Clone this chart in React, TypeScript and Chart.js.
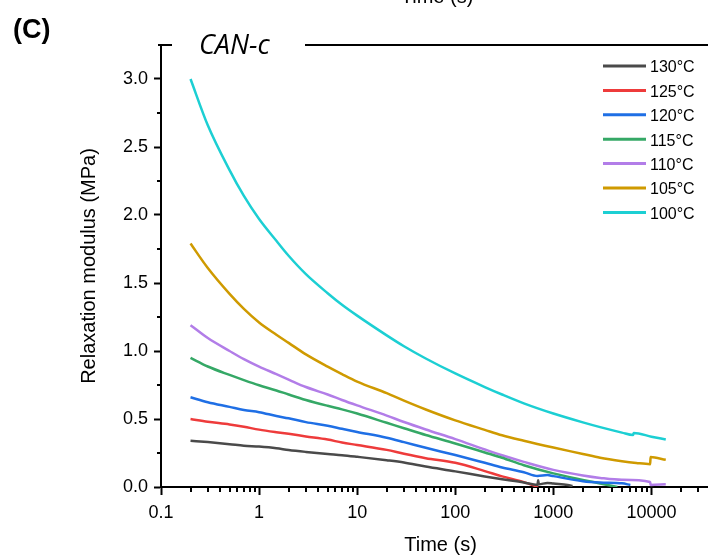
import React, { useEffect, useRef } from "react";
import { Chart, registerables } from "chart.js";

Chart.register(...registerables);

const FONT = "'Liberation Sans', Arial, sans-serif";

// ---- data ----
const LABELS = ["130°C", "125°C", "120°C", "115°C", "110°C", "105°C", "100°C"];
const COLORS = ["#4a4a4a", "#ee3b3b", "#1f6fe5", "#35a866", "#b27de8", "#cf9a00", "#1ccfd3"];

const T130 = [0.2, 0.3, 0.5, 0.7, 1, 1.5, 2, 3, 5, 7, 10, 20, 30, 50, 100, 200, 300, 500, 690, 700, 710, 870, 1000, 1400, 1570];
const G130 = [0.34, 0.33, 0.315, 0.304, 0.297, 0.285, 0.272, 0.258, 0.243, 0.234, 0.222, 0.197, 0.18, 0.15, 0.115, 0.077, 0.057, 0.033, 0.015, 0.05, 0.02, 0.03, 0.025, 0.015, 0.007];

const T125 = [0.2, 0.3, 0.5, 0.7, 1, 1.5, 2, 3, 5, 7, 10, 20, 30, 50, 100, 200, 300, 500, 700];
const G125 = [0.5, 0.48, 0.46, 0.443, 0.422, 0.403, 0.391, 0.372, 0.349, 0.327, 0.309, 0.273, 0.244, 0.212, 0.178, 0.117, 0.078, 0.036, 0.0];

const T120 = [0.2, 0.3, 0.5, 0.7, 1, 1.5, 2, 3, 5, 7, 10, 20, 30, 50, 100, 200, 300, 500, 690, 870, 1000, 2000, 3000, 5000, 6100];
const G120 = [0.66, 0.623, 0.589, 0.566, 0.55, 0.522, 0.505, 0.477, 0.45, 0.428, 0.405, 0.362, 0.33, 0.288, 0.235, 0.178, 0.144, 0.109, 0.081, 0.088, 0.08, 0.043, 0.033, 0.027, 0.015];

const T115 = [0.2, 0.3, 0.5, 0.7, 1, 1.5, 2, 3, 5, 7, 10, 20, 30, 50, 100, 200, 300, 500, 1000, 2000, 3000, 4500];
const G115 = [0.95, 0.886, 0.824, 0.786, 0.748, 0.71, 0.68, 0.64, 0.597, 0.571, 0.54, 0.472, 0.432, 0.382, 0.32, 0.254, 0.215, 0.16, 0.1, 0.052, 0.026, 0.0];

const T110 = [0.2, 0.3, 0.5, 0.7, 1, 1.5, 2, 3, 5, 7, 10, 20, 30, 50, 100, 200, 300, 500, 1000, 2000, 3000, 5000, 9700, 9800, 14000];
const G110 = [1.19, 1.095, 1.0, 0.94, 0.885, 0.83, 0.79, 0.735, 0.68, 0.64, 0.6, 0.525, 0.478, 0.423, 0.352, 0.276, 0.233, 0.185, 0.126, 0.085, 0.067, 0.053, 0.037, 0.015, 0.02];

const T105 = [0.2, 0.3, 0.5, 0.7, 1, 1.5, 2, 3, 5, 7, 10, 20, 30, 50, 100, 200, 300, 500, 1000, 2000, 3000, 5000, 7000, 9700, 9800, 14000];
const G105 = [1.79, 1.61, 1.42, 1.31, 1.21, 1.12, 1.06, 0.975, 0.885, 0.83, 0.775, 0.69, 0.635, 0.57, 0.49, 0.42, 0.38, 0.34, 0.29, 0.243, 0.215, 0.19, 0.177, 0.168, 0.22, 0.2];

const T100 = [0.2, 0.3, 0.5, 0.7, 1, 1.5, 2, 3, 5, 7, 10, 20, 30, 50, 100, 200, 300, 500, 1000, 2000, 3000, 5000, 6500, 6600, 10000, 14000];
const G100 = [3.0, 2.66, 2.33, 2.14, 1.97, 1.81, 1.7, 1.565, 1.425, 1.34, 1.26, 1.115, 1.035, 0.945, 0.835, 0.735, 0.68, 0.615, 0.54, 0.475, 0.44, 0.4, 0.382, 0.397, 0.37, 0.349];

const SERIES_T = [T130, T125, T120, T115, T110, T105, T100];
const SERIES_G = [G130, G125, G120, G115, G110, G105, G100];

const X_TICKS = [0.1, 1, 10, 100, 1000, 10000];
const X_TICK_LABELS = ["0.1", "1", "10", "100", "1000", "10000"];
const Y_TICKS = [0, 0.5, 1, 1.5, 2, 2.5, 3];
const Y_TICK_LABELS = ["0.0", "0.5", "1.0", "1.5", "2.0", "2.5", "3.0"];
const X_MIN = 0.1;
const X_MAX = 50000;
const Y_MIN = 0;
const Y_MAX = 3.25;

const X_TITLE = "Time (s)";
const Y_TITLE = "Relaxation modulus (MPa)";
const PANEL = "(C)";
const SAMPLE = "CAN-c";

const decorPlugin = {
  id: "decor",
  afterDraw(chart: any) {
    const { ctx, chartArea: ca, scales } = chart;
    const x = scales.x;
    const y = scales.y;
    ctx.save();
    ctx.strokeStyle = "#000";
    ctx.lineWidth = 2;
    ctx.beginPath();
    // minor x ticks
    for (const d of X_TICKS) {
      for (let m = 2; m <= 9; m++) {
        const v = d * m;
        if (v > X_MAX) break;
        const px = Math.round(x.getPixelForValue(v));
        ctx.moveTo(px, ca.bottom);
        ctx.lineTo(px, ca.bottom + 5);
      }
    }
    // minor y ticks
    for (const t of Y_TICKS) {
      const v = t + 0.25;
      if (v >= Y_MAX - 1e-9) continue;
      const py = Math.round(y.getPixelForValue(v));
      ctx.moveTo(ca.left, py);
      ctx.lineTo(ca.left - 4, py);
    }
    // top frame line, interrupted by sample name
    const top = Math.round(ca.top);
    ctx.moveTo(ca.left - 3, top);
    ctx.lineTo(ca.left + 11, top);
    ctx.moveTo(ca.left + 144, top);
    ctx.lineTo(ca.right, top);
    ctx.stroke();

    // sample name
    ctx.fillStyle = "#000";
    ctx.textAlign = "left";
    ctx.textBaseline = "alphabetic";
    ctx.font = "italic 27px 'Open Sans', sans-serif";
    ctx.fillText(SAMPLE, ca.left + 38, top + 9);

    // panel letter
    ctx.font = `bold 27px ${FONT}`;
    ctx.fillText(PANEL, 13, 38);

    // clipped title of panel above
    ctx.font = `20px ${FONT}`;
    ctx.textAlign = "center";
    ctx.fillText(X_TITLE, 437, 3);

    // legend
    const ds = chart.data.datasets;
    ctx.font = `16px ${FONT}`;
    ctx.textAlign = "left";
    ctx.textBaseline = "middle";
    for (let i = 0; i < ds.length; i++) {
      const ly = 66 + i * 24.4;
      ctx.strokeStyle = ds[i].borderColor;
      ctx.lineWidth = 3;
      ctx.beginPath();
      ctx.moveTo(603, ly);
      ctx.lineTo(646, ly);
      ctx.stroke();
      ctx.fillStyle = "#000";
      ctx.fillText(ds[i].label, 650, ly + 2);
    }
    ctx.restore();
  },
};

export default function App() {
  const ref = useRef<HTMLCanvasElement | null>(null);

  useEffect(() => {
    if (!ref.current) return;
    const datasets = LABELS.map((label, i) => ({
      label,
      data: SERIES_T[i].map((t, j) => ({ x: t, y: SERIES_G[i][j] })),
      borderColor: COLORS[i],
      backgroundColor: COLORS[i],
      borderWidth: 2.5,
      pointRadius: 0,
      fill: false,
      cubicInterpolationMode: "monotone" as const,
    }));

    const chart = new Chart(ref.current, {
      type: "line",
      data: { datasets },
      plugins: [decorPlugin],
      options: {
        animation: false,
        responsive: false,
        devicePixelRatio: 1,
        layout: { padding: { top: 45, left: 0, right: 0, bottom: 0 } },
        plugins: { legend: { display: false }, tooltip: { enabled: false }, title: { display: false } },
        scales: {
          x: {
            type: "logarithmic",
            min: X_MIN,
            max: X_MAX,
            afterBuildTicks: (scale: any) => {
              scale.ticks = X_TICKS.map((v) => ({ value: v }));
            },
            afterFit: (scale: any) => {
              scale.height = 72;
            },
            ticks: {
              autoSkip: false,
              maxRotation: 0,
              padding: 7,
              color: "#000",
              font: { family: FONT, size: 18 },
              callback: (v: any) => {
                const i = X_TICKS.findIndex((t) => Math.abs(t - Number(v)) < 1e-9 * Math.max(1, t));
                return i >= 0 ? X_TICK_LABELS[i] : "";
              },
            },
            grid: {
              display: true,
              drawOnChartArea: false,
              drawTicks: true,
              tickLength: 8,
              tickWidth: 2,
              tickColor: "#000",
            },
            border: { display: true, color: "#000", width: 2 },
            title: {
              display: true,
              text: X_TITLE,
              color: "#000",
              font: { family: FONT, size: 20 },
              padding: { top: 0, bottom: 2 },
            },
          },
          y: {
            type: "linear",
            min: Y_MIN,
            max: Y_MAX,
            afterBuildTicks: (scale: any) => {
              scale.ticks = Y_TICKS.map((v) => ({ value: v }));
            },
            afterFit: (scale: any) => {
              scale.width = 161;
            },
            ticks: {
              autoSkip: false,
              padding: 6,
              color: "#000",
              font: { family: FONT, size: 18 },
              callback: (v: any) => {
                const i = Y_TICKS.findIndex((t) => Math.abs(t - Number(v)) < 1e-9);
                return i >= 0 ? Y_TICK_LABELS[i] : "";
              },
            },
            grid: {
              display: true,
              drawOnChartArea: false,
              drawTicks: true,
              tickLength: 7,
              tickWidth: 2,
              tickColor: "#000",
            },
            border: { display: true, color: "#000", width: 2 },
            title: {
              display: true,
              text: Y_TITLE,
              color: "#000",
              font: { family: FONT, size: 20 },
              padding: { top: 77, bottom: 0 },
            },
          },
        },
      },
    });
    return () => chart.destroy();
  }, []);

  return (
    <div
      style={{
        position: "absolute",
        left: 0,
        top: 0,
        width: 708,
        height: 559,
        overflow: "hidden",
        background: "#fff",
      }}
    >
      <canvas ref={ref} width={720} height={559} style={{ display: "block" }} />
    </div>
  );
}
